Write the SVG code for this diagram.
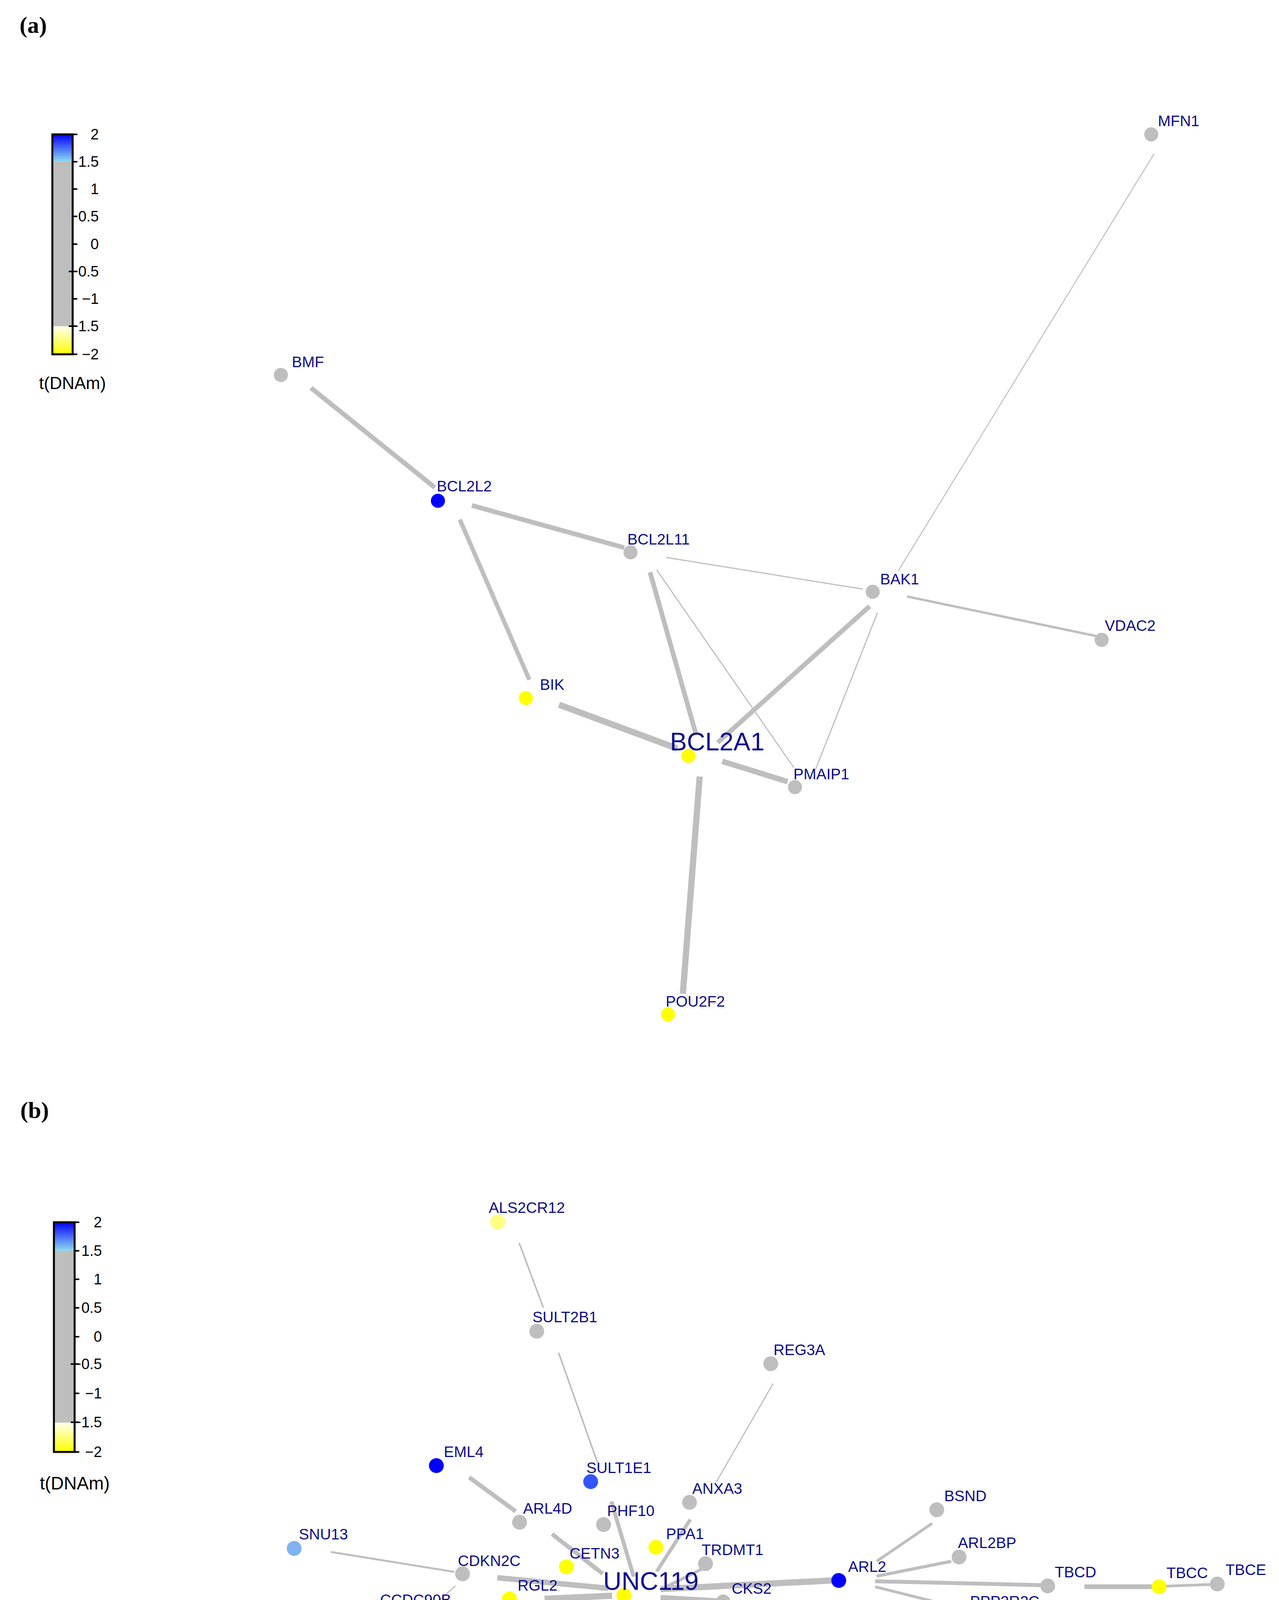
<svg xmlns="http://www.w3.org/2000/svg" width="3274" height="5511" viewBox="0 0 3274 5511">
<style>
.e{stroke:#bebebe;stroke-linecap:butt;fill:none}
.l{font-family:"Liberation Sans",Arial,sans-serif;fill:#0b0b8f;font-size:39px}
.big{font-size:65px}
.cb{font-family:"Liberation Sans",Arial,sans-serif;fill:#000;font-size:38px;text-anchor:end}
.pl{font-family:"Liberation Serif","Times New Roman",serif;font-weight:bold;font-size:60px;fill:#000}
.g{fill:#bebebe}.y{fill:#ffff00}.b{fill:#0000ff}
</style>
<defs>
<linearGradient id="cg" x1="0" y1="0" x2="0" y2="1">
<stop offset="0" stop-color="#0000ff"/><stop offset="0.125" stop-color="#8fdcef"/><stop offset="0.125" stop-color="#bebebe"/><stop offset="0.87" stop-color="#bebebe"/><stop offset="0.875" stop-color="#ffffe8"/><stop offset="1" stop-color="#ffff00"/>
</linearGradient>
</defs>
<rect width="3274" height="5511" fill="#fff"/>
<text class="pl" x="50" y="84">(a)</text>
<text class="pl" x="52" y="2862">(b)</text>
<g id="legend-a">
<rect x="134" y="344" width="52" height="563" fill="url(#cg)" stroke="#000" stroke-width="5"/>
<g stroke="#000" stroke-width="4"><line x1="186" y1="344" x2="198" y2="344"/><line x1="186" y1="414" x2="198" y2="414"/><line x1="186" y1="484" x2="198" y2="484"/><line x1="186" y1="554" x2="198" y2="554"/><line x1="186" y1="625" x2="198" y2="625"/><line x1="176" y1="695" x2="198" y2="695"/><line x1="186" y1="765" x2="198" y2="765"/><line x1="176" y1="835" x2="198" y2="835"/><line x1="186" y1="907" x2="198" y2="907"/></g>
<text class="cb" x="253" y="357">2</text><text class="cb" x="253" y="427">1.5</text><text class="cb" x="253" y="497">1</text><text class="cb" x="253" y="567">0.5</text><text class="cb" x="253" y="638">0</text><text class="cb" x="253" y="708">−0.5</text><text class="cb" x="253" y="778">−1</text><text class="cb" x="253" y="848">−1.5</text><text class="cb" x="253" y="920">−2</text>
<text x="100" y="996" font-family="Liberation Sans,Arial,sans-serif" font-size="44">t(DNAm)</text>
</g>
<g id="legend-b">
<rect x="138" y="3129" width="53" height="588" fill="url(#cg)" stroke="#000" stroke-width="5"/>
<g stroke="#000" stroke-width="4"><line x1="191" y1="3129" x2="203" y2="3129"/><line x1="191" y1="3202" x2="203" y2="3202"/><line x1="191" y1="3275" x2="203" y2="3275"/><line x1="191" y1="3348" x2="203" y2="3348"/><line x1="191" y1="3422" x2="203" y2="3422"/><line x1="181" y1="3492" x2="203" y2="3492"/><line x1="191" y1="3567" x2="203" y2="3567"/><line x1="181" y1="3641" x2="203" y2="3641"/><line x1="191" y1="3717" x2="203" y2="3717"/></g>
<text class="cb" x="261" y="3142">2</text><text class="cb" x="261" y="3215">1.5</text><text class="cb" x="261" y="3288">1</text><text class="cb" x="261" y="3361">0.5</text><text class="cb" x="261" y="3435">0</text><text class="cb" x="261" y="3505">−0.5</text><text class="cb" x="261" y="3580">−1</text><text class="cb" x="261" y="3654">−1.5</text><text class="cb" x="261" y="3730">−2</text>
<text x="102" y="3813" font-family="Liberation Sans,Arial,sans-serif" font-size="46">t(DNAm)</text>
</g>
<g id="connectors">
<line class="e" stroke-width="12" x1="796" y1="993" x2="1113" y2="1248"/>
<line class="e" stroke-width="12" x1="1208" y1="1294" x2="1598" y2="1402"/>
<line class="e" stroke-width="11" x1="1177" y1="1330" x2="1355" y2="1740"/>
<line class="e" stroke-width="3" x1="1705" y1="1427" x2="2208" y2="1508"/>
<line class="e" stroke-width="12" x1="1664" y1="1465" x2="1782" y2="1881"/>
<line class="e" stroke-width="3" x1="1681" y1="1459" x2="2032" y2="1965"/>
<line class="e" stroke-width="2.5" x1="2299" y1="1462" x2="2954" y2="394"/>
<line class="e" stroke-width="6" x1="2322" y1="1527" x2="2805" y2="1628"/>
<line class="e" stroke-width="12" x1="2226" y1="1552" x2="1837" y2="1901"/>
<line class="e" stroke-width="3" x1="2246" y1="1569" x2="2088" y2="1969"/>
<line class="e" stroke-width="16" x1="1431" y1="1804" x2="1733" y2="1916"/>
<line class="e" stroke-width="14" x1="1849" y1="1949" x2="2016" y2="2001"/>
<line class="e" stroke-width="16" x1="1791" y1="1988" x2="1748" y2="2544"/>

<line class="e" stroke-width="4" x1="1329" y1="3182" x2="1391" y2="3348"/>
<line class="e" stroke-width="4" x1="1430" y1="3463" x2="1529" y2="3743"/>
<line class="e" stroke-width="3" x1="1979" y1="3542" x2="1834" y2="3793"/>
<line class="e" stroke-width="11" x1="1201" y1="3782" x2="1320" y2="3869"/>
<line class="e" stroke-width="11" x1="1413" y1="3927" x2="1543" y2="4029"/>
<line class="e" stroke-width="10" x1="1565" y1="3844" x2="1622" y2="4036"/>
<line class="e" stroke-width="9" x1="1767" y1="3890" x2="1681" y2="4023"/>
<line class="e" stroke-width="8" x1="1796" y1="4017" x2="1700" y2="4065"/>
<line class="e" stroke-width="5" x1="847" y1="3973" x2="1163" y2="4024"/>
<line class="e" stroke-width="14" x1="1273" y1="4039" x2="1557" y2="4066"/>
<line class="e" stroke-width="3" x1="1088" y1="4128" x2="1166" y2="4060"/>
<line class="e" stroke-width="7" x1="1088" y1="4126" x2="1284" y2="4103"/>
<line class="e" stroke-width="4" x1="1088" y1="4138" x2="1318" y2="4163"/>
<line class="e" stroke-width="16" x1="1394" y1="4093" x2="1567" y2="4085"/>
<line class="e" stroke-width="12" x1="1428" y1="4154" x2="1586" y2="4103"/>
<line class="e" stroke-width="12" x1="1361" y1="4233" x2="1590" y2="4112"/>
<line class="e" stroke-width="5" x1="1021" y1="4379" x2="1255" y2="4283"/>
<line class="e" stroke-width="10" x1="1566" y1="4182" x2="1605" y2="4135"/>
<line class="e" stroke-width="10" x1="1653" y1="4138" x2="1645" y2="4225"/>
<line class="e" stroke-width="12" x1="1619" y1="4386" x2="1632" y2="4138"/>
<line class="e" stroke-width="12" x1="1681" y1="4109" x2="1763" y2="4176"/>
<line class="e" stroke-width="12" x1="1672" y1="4125" x2="1810" y2="4265"/>
<line class="e" stroke-width="14" x1="1691" y1="4090" x2="1844" y2="4099"/>
<line class="e" stroke-width="16" x1="1691" y1="4068" x2="2130" y2="4046"/>
<line class="e" stroke-width="3" x1="1892" y1="4358" x2="2085" y2="4561"/>
<line class="e" stroke-width="7" x1="2244" y1="3997" x2="2386" y2="3900"/>
<line class="e" stroke-width="8" x1="2244" y1="4035" x2="2435" y2="3997"/>
<line class="e" stroke-width="10" x1="2240" y1="4048" x2="2666" y2="4058"/>
<line class="e" stroke-width="7" x1="2240" y1="4062" x2="2479" y2="4122"/>
<line class="e" stroke-width="12" x1="2776" y1="4062" x2="2950" y2="4062"/>
<line class="e" stroke-width="7" x1="2975" y1="4061" x2="3105" y2="4056"/>
<line class="e" stroke-width="5" x1="1614" y1="4510" x2="1605" y2="4832"/>
<line class="e" stroke-width="11" x1="1603" y1="4949" x2="1605" y2="5070"/>
<line class="e" stroke-width="6" x1="1605" y1="4949" x2="1609" y2="5169"/>
<line class="e" stroke-width="5" x1="1611" y1="5286" x2="1611" y2="5438"/>
</g>
<g id="n-BMF"><circle class="g" cx="719" cy="960" r="18"/><text class="l" x="747" y="940">BMF</text></g>
<g id="n-MFN1"><circle class="g" cx="2947" cy="344" r="18"/><text class="l" x="2964" y="323">MFN1</text></g>
<g id="n-BCL2L2"><circle class="b" cx="1121" cy="1282" r="18"/><text class="l" x="1118" y="1258">BCL2L2</text></g>
<g id="n-BCL2L11"><circle class="g" cx="1614" cy="1414" r="18"/><text class="l" x="1606" y="1394">BCL2L11</text></g>
<g id="n-BAK1"><circle class="g" cx="2234" cy="1515" r="18"/><text class="l" x="2253" y="1496">BAK1</text></g>
<g id="n-VDAC2"><circle class="g" cx="2820" cy="1638" r="18"/><text class="l" x="2828" y="1615">VDAC2</text></g>
<g id="n-BIK"><circle class="y" cx="1346" cy="1787" r="18"/><text class="l" x="1382" y="1766">BIK</text></g>
<g id="n-BCL2A1"><circle class="y" cx="1762" cy="1935" r="18"/><text class="l big" x="1715" y="1921">BCL2A1</text></g>
<g id="n-PMAIP1"><circle class="g" cx="2035" cy="2015" r="18"/><text class="l" x="2031" y="1995">PMAIP1</text></g>
<g id="n-POU2F2"><circle class="y" cx="1710" cy="2597" r="18"/><text class="l" x="1704" y="2577">POU2F2</text></g>

<g id="n-ALS2CR12"><circle fill="#ffff80" cx="1274" cy="3128" r="19"/><text class="l" x="1251" y="3105">ALS2CR12</text></g>
<g id="n-SULT2B1"><circle class="g" cx="1374" cy="3408" r="19"/><text class="l" x="1363" y="3385">SULT2B1</text></g>
<g id="n-REG3A"><circle class="g" cx="1973" cy="3491" r="19"/><text class="l" x="1980" y="3469">REG3A</text></g>
<g id="n-EML4"><circle class="b" cx="1117" cy="3752" r="19"/><text class="l" x="1136" y="3730">EML4</text></g>
<g id="n-SULT1E1"><circle fill="#3355ff" cx="1512" cy="3793" r="19"/><text class="l" x="1501" y="3771">SULT1E1</text></g>
<g id="n-ANXA3"><circle class="g" cx="1765" cy="3846" r="19"/><text class="l" x="1772" y="3824">ANXA3</text></g>
<g id="n-ARL4D"><circle class="g" cx="1330" cy="3897" r="19"/><text class="l" x="1339" y="3875">ARL4D</text></g>
<g id="n-PHF10"><circle class="g" cx="1545" cy="3903" r="19"/><text class="l" x="1554" y="3881">PHF10</text></g>
<g id="n-SNU13"><circle fill="#7eb3f0" cx="753" cy="3964" r="19"/><text class="l" x="765" y="3941">SNU13</text></g>
<g id="n-PPA1"><circle class="y" cx="1679" cy="3961" r="19"/><text class="l" x="1705" y="3940">PPA1</text></g>
<g id="n-TRDMT1"><circle class="g" cx="1806" cy="4003" r="19"/><text class="l" x="1796" y="3981">TRDMT1</text></g>
<g id="n-CETN3"><circle class="y" cx="1450" cy="4011" r="19"/><text class="l" x="1458" y="3990">CETN3</text></g>
<g id="n-CDKN2C"><circle class="g" cx="1184" cy="4029" r="19"/><text class="l" x="1172" y="4009">CDKN2C</text></g>
<g id="n-RGL2"><circle class="y" cx="1304" cy="4093" r="19"/><text class="l" x="1325" y="4072">RGL2</text></g>
<g id="n-CCDC90B"><circle class="g" cx="994" cy="4131" r="19"/><text class="l" x="973" y="4109">CCDC90B</text></g>
<g id="n-FXYD6"><circle class="g" cx="1338" cy="4168" r="19"/><text class="l" x="1346" y="4147">FXYD6</text></g>
<g id="n-CKS2"><circle class="g" cx="1851" cy="4101" r="19"/><text class="l" x="1873" y="4080">CKS2</text></g>
<g id="n-HLA-DQA1"><circle class="g" cx="1769" cy="4180" r="19"/><text class="l" x="1732" y="4157">HLA−DQA1</text></g>
<g id="n-GSTM4"><circle class="g" cx="1635" cy="4240" r="19"/><text class="l" x="1641" y="4216">GSTM4</text></g>
<g id="n-QTRT1"><circle class="g" cx="1500" cy="4256" r="19"/><text class="l" x="1507" y="4228">QTRT1</text></g>
<g id="n-GIPC2"><circle class="g" cx="1275" cy="4259" r="19"/><text class="l" x="1285" y="4238">GIPC2</text></g>
<g id="n-COX17"><circle class="g" cx="1815" cy="4315" r="19"/><text class="l" x="1823" y="4292">COX17</text></g>
<g id="n-FZD3"><circle fill="#6ca0f0" cx="901" cy="4415" r="19"/><text class="l" x="922" y="4393">FZD3</text></g>
<g id="n-ZNF24"><circle class="g" cx="1578" cy="4450" r="19"/><text class="l" x="1590" y="4428">ZNF24</text></g>
<g id="n-UNC119"><circle class="y" cx="1597" cy="4084" r="19"/><text class="l big" x="1544" y="4070">UNC119</text></g>
<g id="n-BSND"><circle class="g" cx="2398" cy="3865" r="19"/><text class="l" x="2417" y="3843">BSND</text></g>
<g id="n-ARL2BP"><circle class="g" cx="2455" cy="3986" r="19"/><text class="l" x="2452" y="3963">ARL2BP</text></g>
<g id="n-ARL2"><circle class="b" cx="2147" cy="4046" r="19"/><text class="l" x="2171" y="4024">ARL2</text></g>
<g id="n-TBCD"><circle class="g" cx="2682" cy="4060" r="19"/><text class="l" x="2700" y="4038">TBCD</text></g>
<g id="n-TBCC"><circle class="y" cx="2967" cy="4062" r="19"/><text class="l" x="2986" y="4040">TBCC</text></g>
<g id="n-TBCE"><circle class="g" cx="3116" cy="4055" r="19"/><text class="l" x="3137" y="4032">TBCE</text></g>
<g id="n-PPP2R2C"><circle class="g" cx="2498" cy="4134" r="19"/><text class="l" x="2483" y="4113">PPP2R2C</text></g>
<g id="n-KATNAL1"><circle class="g" cx="2098" cy="4615" r="19"/><text class="l" x="2084" y="4593">KATNAL1</text></g>
<g id="n-SCAND1"><circle class="b" cx="1568" cy="4890" r="19"/><text class="l" x="1563" y="4869">SCAND1</text></g>
<g id="n-ZSCAN20"><circle class="g" cx="1562" cy="5082" r="19"/><text class="l" x="1549" y="5063">ZSCAN20</text></g>
<g id="n-ZNF263"><circle class="g" cx="1575" cy="5226" r="19"/><text class="l" x="1576" y="5203">ZNF263</text></g>
<g id="n-TRIM41"><circle fill="#ffffe0" cx="1575" cy="5491" r="19"/><text class="l" x="1576" y="5470">TRIM41</text></g>
</svg>
